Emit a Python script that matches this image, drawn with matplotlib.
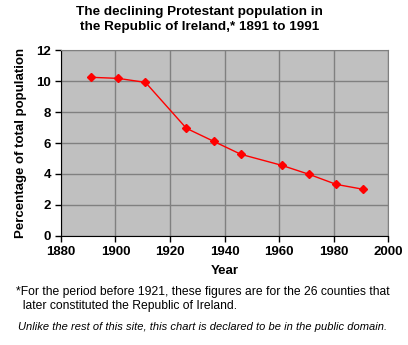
import matplotlib.pyplot as plt

years = [1891, 1901, 1911, 1926, 1936, 1946, 1961, 1971, 1981, 1991]
percent = [10.24, 10.17, 9.91, 6.95, 6.11, 5.27, 4.56, 3.98, 3.33, 3.01]
x_ticks = [1880, 1900, 1920, 1940, 1960, 1980, 2000]
y_ticks = [0, 2, 4, 6, 8, 10, 12]

plt.rcParams["font.family"] = ["Liberation Sans", "DejaVu Sans"]

fig = plt.figure(figsize=(4.08, 3.45), dpi=100)
ax = fig.add_axes([0.1495, 0.316, 0.8015, 0.539])
ax.set_facecolor("#c0c0c0")

ax.plot(years, percent, color="red", lw=1.0, marker="D", ms=4.5,
        markerfacecolor="red", markeredgecolor="red")

ax.set_xlim(1880, 2000)
ax.set_ylim(0, 12)
ax.set_xticks(x_ticks)
ax.set_yticks(y_ticks)
ax.grid(True, color="#808080", lw=1.0)
ax.set_axisbelow(True)
for s in ["top", "right"]:
    ax.spines[s].set_color("#808080")
for s in ["left", "bottom"]:
    ax.spines[s].set_color("black")
ax.tick_params(direction="out", length=4, width=1, colors="black",
               labelsize=9.5, pad=3)
for lab in ax.get_xticklabels() + ax.get_yticklabels():
    lab.set_fontweight("bold")

ax.set_xlabel("Year", fontsize=9.5, fontweight="bold", labelpad=5)
ax.set_ylabel("Percentage of total population", fontsize=9.5,
              fontweight="bold", labelpad=7)

fig.text(0.49, 0.983, "The declining Protestant population in\nthe Republic of Ireland,* 1891 to 1991",
         ha="center", va="top", fontsize=9.7, fontweight="bold", linespacing=1.3)

fig.text(0.04, 0.172, "*For the period before 1921, these figures are for the 26 counties that\n"
         "  later constituted the Republic of Ireland.",
         ha="left", va="top", fontsize=8.7, linespacing=1.25)
fig.text(0.497, 0.037, "Unlike the rest of this site, this chart is declared to be in the public domain.",
         ha="center", va="bottom", fontsize=8.0, style="italic")

fig.savefig("out.png", dpi=100)
